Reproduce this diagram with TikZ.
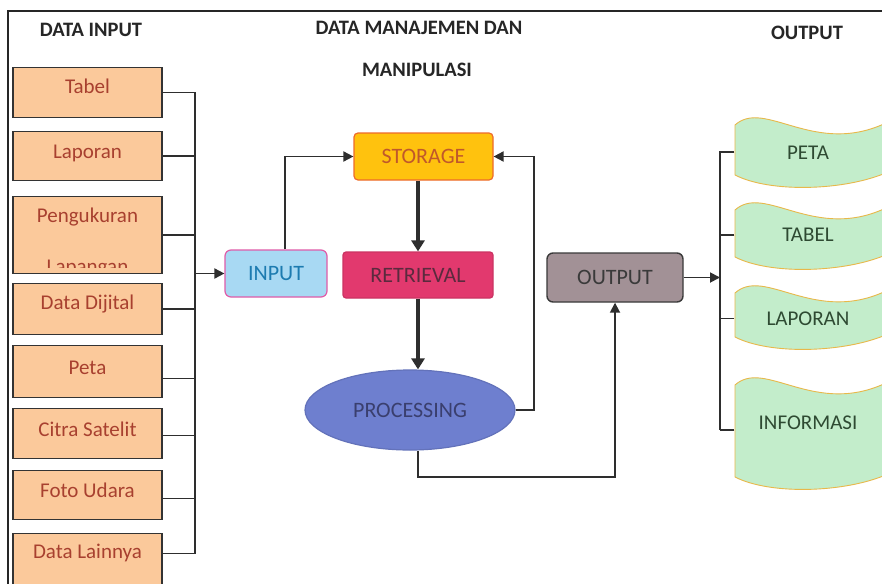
\documentclass[tikz,border=0pt]{standalone}
\usepackage{fontspec}
\setmainfont{Carlito}
\usetikzlibrary{arrows.meta,shapes.geometric,calc}

\definecolor{peach}{HTML}{FBC99B}
\definecolor{peachtext}{HTML}{A8402F}
\definecolor{linegray}{HTML}{2E2E2E}
\definecolor{inblue}{HTML}{A8D9F3}
\definecolor{inpink}{HTML}{E05CA8}
\definecolor{intext}{HTML}{1C7BB0}
\definecolor{storfill}{HTML}{FFC20E}
\definecolor{stordraw}{HTML}{EE6A2B}
\definecolor{stortext}{HTML}{C0582B}
\definecolor{retfill}{HTML}{E2396E}
\definecolor{rettext}{HTML}{5B2A3E}
\definecolor{procfill}{HTML}{6E7FCF}
\definecolor{proctext}{HTML}{3A3F6E}
\definecolor{outfill}{HTML}{A29196}
\definecolor{outtext}{HTML}{3A3A3A}
\definecolor{tapefill}{HTML}{C3EDCB}
\definecolor{tapedraw}{HTML}{E8B84A}
\definecolor{tapetext}{HTML}{2E4A32}

% wavy output banner between a top line #1 and a bottom line #2
\newcommand\wavetape[2]{%
  \path[tapestyle] (735,#1+5) .. controls (765,#1-22) and (815,#1+38) .. (888,#1+2)
    -- (888,#2-3) .. controls (845,#2+16) and (770,#2+18) .. (735,#2) -- cycle;}

\begin{document}
\begin{tikzpicture}[x=1pt,y=-1pt,
  header/.style={font=\bfseries\fontsize{20.5}{24}\selectfont, text=black!85, inner sep=0pt},
  inbox/.style={draw=black!80, line width=1.4pt, fill=peach, text=peachtext,
    minimum width=149pt, inner xsep=0pt, inner ysep=0pt, anchor=north,
    font=\fontsize{21}{25}\selectfont},
  lefttext/.style={text=peachtext, inner sep=0pt, font=\fontsize{21}{25}\selectfont},
  midbox/.style={line width=1.2pt, inner sep=0pt, font=\fontsize{22}{26}\selectfont},
  bantext/.style={text=tapetext, minimum width=147pt, inner sep=0pt,
    font=\fontsize{21}{25}\selectfont},
  tapestyle/.style={fill=tapefill, draw=tapedraw, line width=0.9pt},
  conn/.style={draw=linegray, line width=1.5pt},
  arr/.style={draw=linegray, line width=1.8pt, -{Triangle[length=10pt,width=10pt]}},
  thickarr/.style={draw=linegray, line width=3.6pt, -{Triangle[length=11pt,width=13pt]}},
  frameline/.style={draw=black!85, line width=1.7pt}]

\clip (0,0) rectangle (882,583);
\fill[white] (0,0) rectangle (882,583);

% outer frame
\draw[frameline] (8,590) -- (8,11) -- (890,11);

% column headings
\node[header] (hin) at (91,30) {DATA INPUT};
\node[header] (hmid) at (419,28) {DATA MANAJEMEN DAN};
\node[header] (hmid2) at (417,70) {MANIPULASI};
\node[header] (hout) at (807,33) {OUTPUT};

% input sources
\node[inbox, text height=26pt, text depth=24pt] (tabel) at (87.5,67) {Tabel};
\node[inbox, text height=27pt, text depth=22pt] (lapor) at (87.5,131) {Laporan};
\node[inbox, text height=26pt, text depth=51pt] (peng) at (87.5,196) {Pengukuran};
\begin{scope}
  \clip ([yshift=7pt]peng.south west) rectangle (peng.north east);
  \node[lefttext, anchor=base] (lapangan) at (87.5,273) {Lapangan};
\end{scope}
\node[inbox, text height=26pt, text depth=25pt] (dijital) at (87.5,283) {Data Dijital};
\node[inbox, text height=29pt, text depth=23pt] (peta) at (87.5,345) {Peta};
\node[inbox, text height=28pt, text depth=22pt] (citra) at (87.5,408) {Citra Satelit};
\node[inbox, text height=27pt, text depth=22pt] (foto) at (87.5,470) {Foto Udara};
\node[inbox, text height=25pt, text depth=35pt] (lain) at (87.5,533) {Data Lainnya};

% collecting bus on the input side
\coordinate (busL) at (195,553);
\draw[conn] (tabel.east) -| (busL);
\draw[conn] (lapor.east) -| (busL);
\draw[conn] (peng.east) -| (busL);
\draw[conn] (dijital.east) -| (busL);
\draw[conn] ([yshift=-7pt]peta.east) -| (busL);
\draw[conn] ([yshift=-2pt]citra.east) -| (busL);
\draw[conn] ([yshift=-3.5pt]foto.east) -| (busL);
\draw[conn] ([yshift=10pt]lain.east) -| (busL);

% data management and manipulation
\node[midbox, fill=inblue, draw=inpink, text=intext, rounded corners=6pt,
  minimum width=102pt, minimum height=47pt] (input) at (276,273.5) {INPUT};
\node[midbox, fill=storfill, draw=stordraw, text=stortext, rounded corners=4pt,
  minimum width=139pt, minimum height=47pt] (storage) at (423.5,156.5) {STORAGE};
\node[midbox, fill=retfill, draw=retfill!90!black, text=rettext, rounded corners=3pt,
  minimum width=150pt, minimum height=46pt] (retrieval) at (418,275) {RETRIEVAL};
\node[midbox, ellipse, fill=procfill, draw=procfill!90!black, text=proctext,
  minimum width=210pt, minimum height=80pt] (processing) at (410,410) {PROCESSING};
\node[midbox, fill=outfill, draw=outtext, line width=1.4pt, text=outtext, rounded corners=6pt,
  minimum width=136pt, minimum height=49pt] (output) at (615,277.5) {OUTPUT};

\draw[arr] (input.west -| busL) -- (input.west);
\draw[arr] ([xshift=9pt]input.north) |- (storage.west);
\draw[thickarr] (storage.south -| retrieval.north) -- (retrieval.north);
\draw[thickarr] (retrieval.south) -- (retrieval.south |- processing.north);
\draw[arr] (processing.east) -- ++(18,0) |- (storage.east);
\draw[arr] ([xshift=8pt]processing.south) -- ++(0,26) -| (output.south);

% output products
\wavetape{120}{175}
\wavetape{205}{257}
\wavetape{288}{337}
\wavetape{380}{477}
\node[bantext] (opeta) at (808,153) {PETA};
\node[bantext] (otabel) at (808,235) {TABEL};
\node[bantext] (olapor) at (808,318.5) {LAPORAN};
\node[bantext] (oinfo) at (808,422.5) {INFORMASI};

\coordinate (busR) at (720,430);
\draw[arr] (output.east) -- (output.east -| busR);
\draw[conn] ([yshift=1pt]opeta.west) -| (busR);
\draw[conn] (otabel.west) -| (busR);
\draw[conn] (olapor.west) -| (busR);
\draw[conn] ([yshift=-7.5pt]oinfo.west) -| (busR);
\end{tikzpicture}
\end{document}
